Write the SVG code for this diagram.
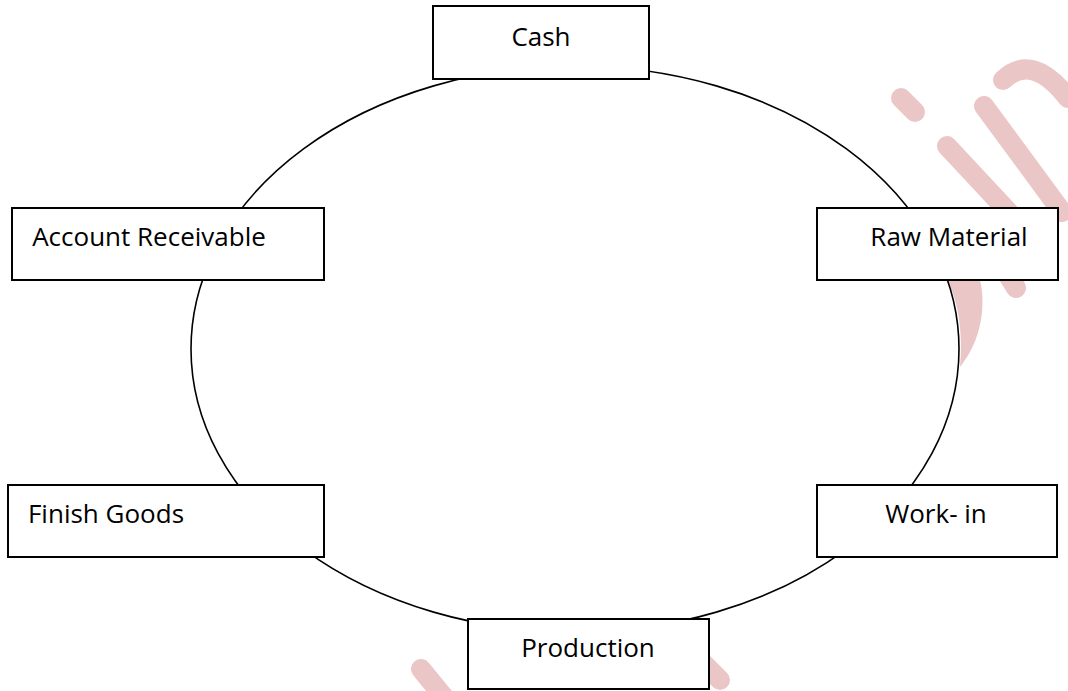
<svg xmlns="http://www.w3.org/2000/svg" width="1068" height="691" viewBox="0 0 1068 691">
  <style>
    .box { fill: #ffffff; stroke: #000000; stroke-width: 2; }
    .label { font-family: "Open Sans", "Noto Sans", "Liberation Sans", sans-serif; font-size: 26px; fill: #000000; text-anchor: middle; }
    .mark { fill: none; stroke: #eac6c6; stroke-width: 20; stroke-linecap: round; }
    .mark-fill { fill: #eac6c6; stroke: none; }
    .ring { fill: none; stroke: #000000; stroke-width: 1.6; }
  </style>

  <rect width="1068" height="691" fill="#ffffff"/>

  <!-- faint pink watermark strokes -->
  <g id="watermark">
    <line class="mark" x1="901" y1="98" x2="915" y2="112"/>
    <line class="mark" x1="947" y1="146" x2="1030" y2="235"/>
    <line class="mark" x1="984" y1="106" x2="1062" y2="212"/>
    <path class="mark" d="M 1003,80 Q 1032,52 1068,98"/>
    <line class="mark" x1="1000" y1="262" x2="1016" y2="288"/>
    <path class="mark-fill" d="M 947,280 L 980,280 C 986,305 982,340 960,367 C 963,335 959,302 947,280 Z"/>
    <line class="mark" stroke-width="18" x1="421" y1="669" x2="448" y2="702"/>
    <line class="mark" stroke-width="18" x1="692" y1="652" x2="720" y2="680"/>
  </g>

  <!-- cycle ring joining the stages -->
  <g id="connectors">
    <ellipse class="ring" cx="575" cy="349" rx="384" ry="283"/>
  </g>

  <g id="cash">
    <rect class="box" x="433" y="6" width="216" height="73"/>
    <text class="label" x="541" y="46">Cash</text>
  </g>

  <g id="account-receivable">
    <rect class="box" x="12" y="208" width="312" height="72"/>
    <text class="label" x="149" y="246">Account Receivable</text>
  </g>

  <g id="raw-material">
    <rect class="box" x="817" y="208" width="241" height="72"/>
    <text class="label" x="949" y="246">Raw Material</text>
  </g>

  <g id="finish-goods">
    <rect class="box" x="8" y="485" width="316" height="72"/>
    <text class="label" x="106" y="523">Finish Goods</text>
  </g>

  <g id="work-in">
    <rect class="box" x="817" y="485" width="240" height="72"/>
    <text class="label" x="936" y="523">Work- in</text>
  </g>

  <g id="production">
    <rect class="box" x="468" y="619" width="241" height="70"/>
    <text class="label" x="588" y="657">Production</text>
  </g>
</svg>
